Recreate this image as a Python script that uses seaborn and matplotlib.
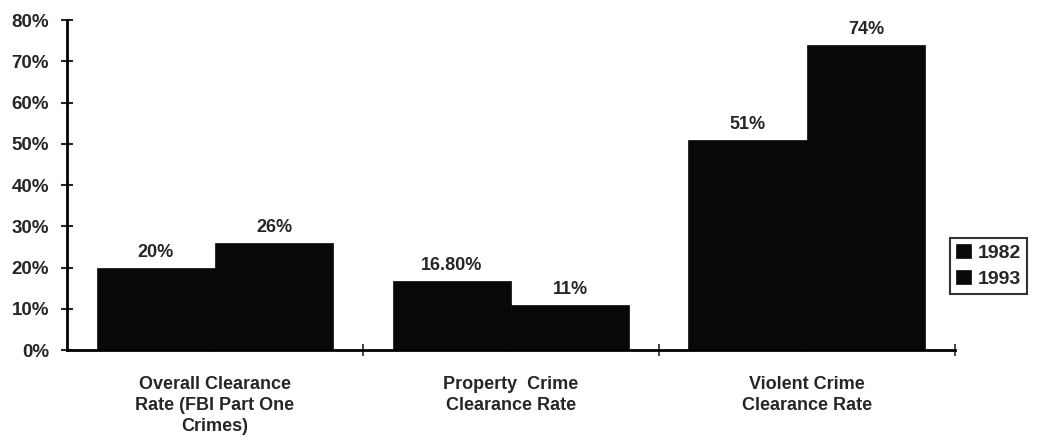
import pandas as pd
import seaborn as sns
import numpy as np
import matplotlib.pyplot as plt
from matplotlib.ticker import FixedLocator, PercentFormatter

categories = ['Overall Clearance\nRate (FBI Part One\nCrimes)',
              'Property  Crime\nClearance Rate',
              'Violent Crime\nClearance Rate']
years = ['1982', '1993']
rate_1982 = [20, 16.8, 51]
rate_1993 = [26, 11, 74]
labels_1982 = ['20%', '16.80%', '51%']
labels_1993 = ['26%', '11%', '74%']

df = pd.DataFrame({
    'Category': categories * 2,
    'Year': [years[0]] * 3 + [years[1]] * 3,
    'Rate': rate_1982 + rate_1993,
})

sns.set_style('white')
plt.rcParams['font.family'] = ['Liberation Sans', 'DejaVu Sans']
plt.rcParams['font.weight'] = 'bold'

fig = plt.figure(figsize=(10.48, 4.47), dpi=100)
ax = fig.add_axes([0.064, 0.217, 0.847, 0.738])

sns.barplot(data=df, x='Category', y='Rate', hue='Year', palette=['#080808', '#080808'],
            width=0.8, saturation=1, ax=ax, edgecolor='#080808', linewidth=0.5)

for cont, labs in zip(ax.containers, [labels_1982, labels_1993]):
    ax.bar_label(cont, labels=labs, padding=5, fontsize=13, fontweight='bold')

ax.set_xlim(-0.5, 2.5)
ax.set_ylim(0, 80)
ax.yaxis.set_major_locator(FixedLocator(np.arange(0, 81, 10)))
ax.yaxis.set_major_formatter(PercentFormatter(decimals=0))
ax.tick_params(axis='y', direction='inout', length=8, width=1.5, labelsize=13.5, pad=9, left=True)
for t in ax.get_yticklabels():
    t.set_fontweight('bold')

# group separator ticks on the x axis, category names centred without ticks
ax.set_xticks([0, 1, 2])
ax.set_xticks([0.5, 1.5, 2.5], minor=True)
ax.tick_params(axis='x', which='major', length=0, labelsize=13, pad=19)
ax.tick_params(axis='x', which='minor', direction='inout', length=9, width=1.2, bottom=True)
for t in ax.get_xticklabels():
    t.set_fontweight('bold')
    t.set_linespacing(1.3)

ax.set_xlabel('')
ax.set_ylabel('')
for side in ['top', 'right']:
    ax.spines[side].set_visible(False)
for side in ['left', 'bottom']:
    ax.spines[side].set_linewidth(2)
    ax.spines[side].set_color('black')

leg = ax.legend(loc='center left', bbox_to_anchor=(0.995, 0.255), frameon=True, fancybox=False,
                edgecolor='black', prop={'weight': 'bold', 'size': 14}, handlelength=0.75,
                handleheight=0.75, handletextpad=0.35, borderpad=0.3, labelspacing=0.4,
                borderaxespad=0)
leg.get_frame().set_linewidth(1.5)

plt.savefig('out.png', dpi=100)
